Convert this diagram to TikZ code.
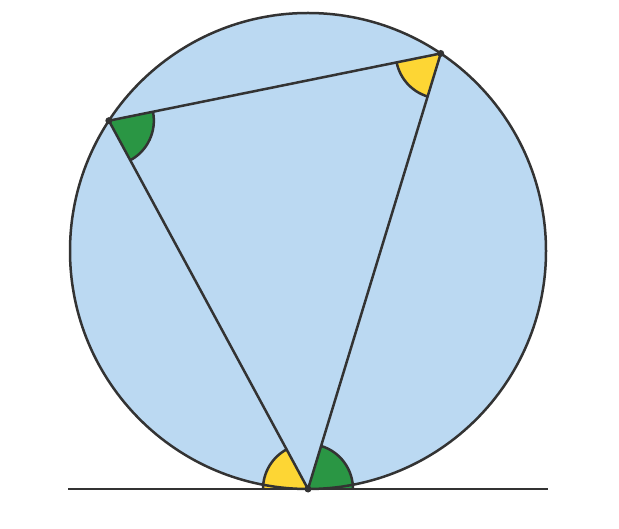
\documentclass[tikz,border=0pt]{standalone}
\usetikzlibrary{angles, calc}

\definecolor{discblue}{RGB}{187,217,242}
\definecolor{arcgreen}{RGB}{42,150,68}
\definecolor{arcyellow}{RGB}{253,214,52}
\definecolor{inkgray}{RGB}{51,51,51}

\begin{document}
\begin{tikzpicture}[x=1pt, y=1pt, line width=2.5pt, color=inkgray,
  green sector/.style = {fill=arcgreen, draw=inkgray, angle radius=45pt},
  yellow sector/.style = {fill=arcyellow, draw=inkgray, angle radius=45pt},
  vertex/.style = {circle, fill=inkgray, inner sep=0pt, minimum size=7pt}]

  \useasboundingbox (0,0) rectangle (619,528);

  \coordinate (O) at (308,277);
  \coordinate (A) at ($(O)+(146.8:238)$);
  \coordinate (B) at ($(O)+(56.1:238)$);
  \coordinate (C) at ($(O)+(270:238)$);
  \coordinate (L) at (68,39);
  \coordinate (R) at (548,39);

  \fill[discblue] (O) circle (238);

  \pic[yellow sector] {angle = A--C--L};
  \pic[green sector] {angle = R--C--B};
  \pic[green sector] {angle = C--A--B};
  \pic[yellow sector] {angle = A--B--C};

  \draw (L) -- (R);
  \draw (A) -- (B) -- (C) -- cycle;
  \draw (O) circle (238);

  \node[vertex] (a) at (A) {};
  \node[vertex] (b) at (B) {};
  \node[vertex] (c) at (C) {};
\end{tikzpicture}
\end{document}
